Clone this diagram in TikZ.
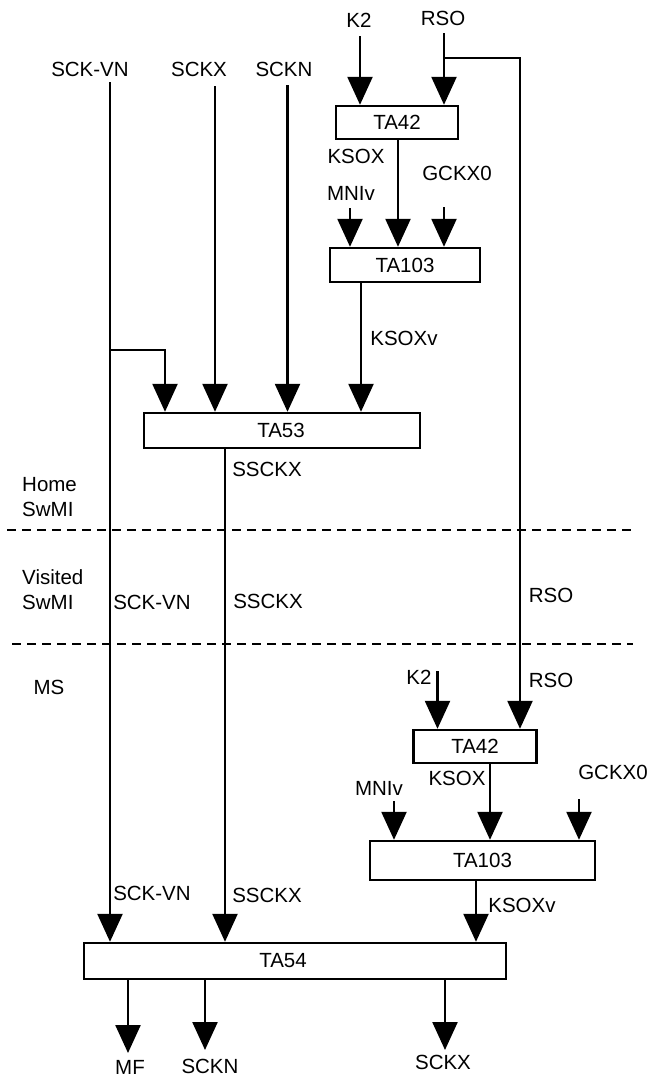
\documentclass[tikz,border=0pt]{standalone}
\usepackage{fontspec}
\setmainfont{Liberation Sans}
\usetikzlibrary{arrows.meta}

\begin{document}
\begin{tikzpicture}[
    x=1pt, y=-1pt,
    font=\fontsize{20.5}{25}\selectfont,
    box/.style={rectangle, draw, line width=2.4pt, inner sep=0pt, align=center},
    lbl/.style={inner sep=0pt},
    wire/.style={line width=2.4pt},
    arrow/.style={wire, -{Triangle[length=28pt, width=25pt]}},
    domline/.style={line width=1.6pt, dash pattern=on 9pt off 6pt}
]
    \useasboundingbox (0,0) rectangle (653,1077);

    % Components
    \node[box, minimum width=122pt, minimum height=33pt] (ta42a) at (397,122.5) {TA42};
    \node[box, minimum width=150pt, minimum height=34pt] (ta103a) at (405,265) {TA103};
    \node[box, minimum width=276pt, minimum height=35pt] (ta53) at (282,430.5) {\hspace*{-2pt}TA53};
    \node[box, minimum width=123pt, minimum height=33pt] (ta42b) at (475,746.5) {TA42};
    \node[box, minimum width=225pt, minimum height=39pt] (ta103b) at (482.5,860.5) {TA103};
    \node[box, minimum width=422pt, minimum height=36pt] (ta54) at (295,961) {\hspace*{-24pt}TA54};

    % Labels
    \node[lbl] (k2top) at (359,20) {K2};
    \node[lbl] (rsotop) at (443,18) {RSO};
    \node[lbl] (sckvntop) at (90,69) {SCK-VN};
    \node[lbl] (sckxtop) at (199,69) {SCKX};
    \node[lbl] (sckntop) at (284,69) {SCKN};
    \node[lbl] (ksoxa) at (356,156) {KSOX};
    \node[lbl] (gckxa) at (457,173) {GCKX0};
    \node[lbl] (mniva) at (351,193) {MNIv};
    \node[lbl] (ksoxva) at (404,338) {KSOXv};
    \node[lbl] (ssckxa) at (267,469) {SSCKX};
    \node[lbl, anchor=west, align=left] (home) at (22,497) {Home\\SwMI};
    \node[lbl, anchor=west, align=left] (visited) at (22,590) {Visited\\SwMI};
    \node[lbl] (sckvnmid) at (152,602) {SCK-VN};
    \node[lbl] (ssckxmid) at (268,601) {SSCKX};
    \node[lbl] (rsomid) at (551,595) {RSO};
    \node[lbl] (ms) at (49,687) {MS};
    \node[lbl] (k2low) at (419,677) {K2};
    \node[lbl] (rsolow) at (551,680) {RSO};
    \node[lbl] (ksoxb) at (457,778) {KSOX};
    \node[lbl] (mnivb) at (379,788) {MNIv};
    \node[lbl] (gckxb) at (613,772) {GCKX0};
    \node[lbl] (ksoxvb) at (522,905) {KSOXv};
    \node[lbl] (sckvnlow) at (152,893) {SCK-VN};
    \node[lbl] (ssckxlow) at (267,895) {SSCKX};
    \node[lbl] (mf) at (130,1067) {MF};
    \node[lbl] (scknout) at (210,1066) {SCKN};
    \node[lbl] (sckxout) at (443,1062) {SCKX};

    % Wire ends
    \coordinate (k2a) at (360,36);
    \coordinate (rsoa) at (444,33);
    \coordinate (rsoj) at (444,58);
    \coordinate (rsod) at (520,58);
    \coordinate (ksoxl) at (398,0);
    \coordinate (mnia) at (350,208);
    \coordinate (gcka) at (444,207);
    \coordinate (ksoxvl) at (361,0);
    \coordinate (sckvna) at (110,82);
    \coordinate (brj) at (110,350);
    \coordinate (brt) at (165,350);
    \coordinate (sckxa) at (215,86);
    \coordinate (sckna) at (287.5,85);
    \coordinate (ssckxl) at (225,0);
    \coordinate (k2b) at (437.5,671);
    \coordinate (ksoxm) at (490,0);
    \coordinate (mnib) at (394,801);
    \coordinate (gckb) at (579,799);
    \coordinate (ksoxvm) at (476,0);
    \coordinate (mfo) at (128,1053);
    \coordinate (sckno) at (205,1050);
    \coordinate (sckxo) at (445,1050);

    % Home SwMI
    \draw[arrow] (k2a) -- (k2a |- ta42a.north);
    \draw[arrow] (rsoa) -- (rsoa |- ta42a.north);
    \draw[arrow] (ksoxl |- ta42a.south) -- (ksoxl |- ta103a.north);
    \draw[arrow] (mnia) -- (mnia |- ta103a.north);
    \draw[arrow] (gcka) -- (gcka |- ta103a.north);
    \draw[arrow] (ksoxvl |- ta103a.south) -- (ksoxvl |- ta53.north);
    \draw[arrow] (brj) -- (brt) -- (brt |- ta53.north);
    \draw[arrow] (sckxa) -- (sckxa |- ta53.north);
    \draw[arrow] (sckna) -- (sckna |- ta53.north);

    % Through the visited SwMI
    \draw[arrow] (rsoj) -- (rsod) -- (rsod |- ta42b.north);
    \draw[arrow] (sckvna) -- (sckvna |- ta54.north);
    \draw[arrow] (ssckxl |- ta53.south) -- (ssckxl |- ta54.north);

    % MS
    \draw[arrow] (k2b) -- (k2b |- ta42b.north);
    \draw[arrow] (ksoxm |- ta42b.south) -- (ksoxm |- ta103b.north);
    \draw[arrow] (mnib) -- (mnib |- ta103b.north);
    \draw[arrow] (gckb) -- (gckb |- ta103b.north);
    \draw[arrow] (ksoxvm |- ta103b.south) -- (ksoxvm |- ta54.north);
    \draw[arrow] (mfo |- ta54.south) -- (mfo);
    \draw[arrow] (sckno |- ta54.south) -- (sckno);
    \draw[arrow] (sckxo |- ta54.south) -- (sckxo);

    % Domain borders
    \coordinate (d1l) at (7,530);
    \coordinate (d1r) at (633,530);
    \coordinate (d2l) at (12,644);
    \coordinate (d2r) at (633,644);
    \draw[domline] (d1l) -- (d1r);
    \draw[domline] (d2l) -- (d2r);
\end{tikzpicture}
\end{document}
